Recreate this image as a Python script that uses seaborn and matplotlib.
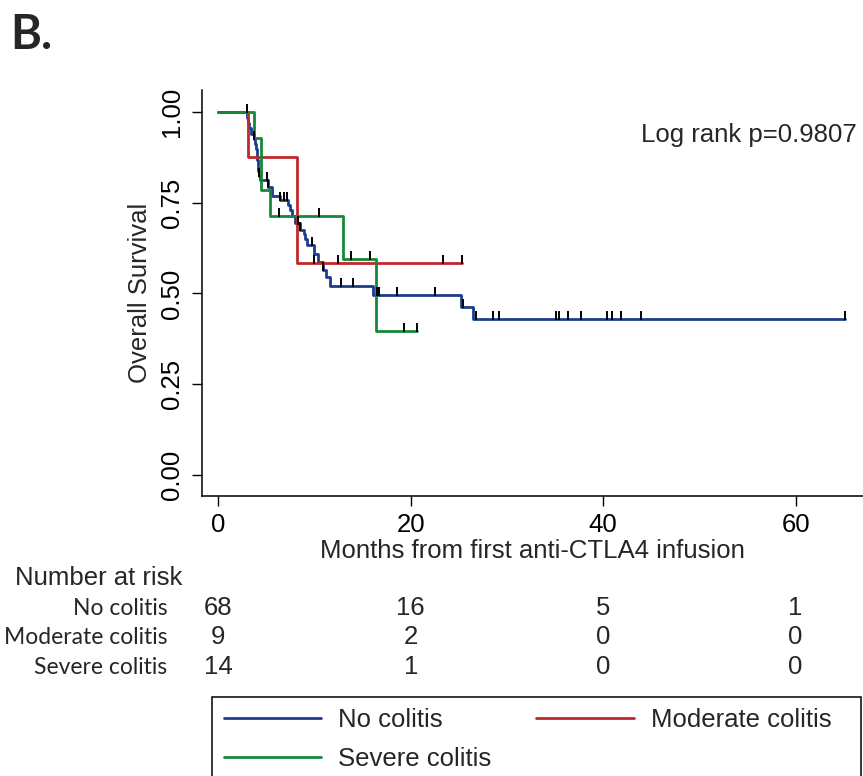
import numpy as np
import pandas as pd
import seaborn as sns
import matplotlib.pyplot as plt
from matplotlib.lines import Line2D
from matplotlib.patches import Rectangle
from matplotlib.transforms import blended_transform_factory

sns.set_style("ticks")
plt.rcParams['font.family'] = ['Liberation Sans', 'DejaVu Sans']

# Kaplan-Meier steps (months, survival)
blue_time = [0, 3.0, 3.1, 3.2, 3.4, 3.7, 3.8, 3.9, 4.0, 4.05, 4.1, 4.15, 4.2, 4.35, 5.2, 5.6,
             6.4, 7.2, 7.4, 7.65, 8.0, 8.45, 8.9, 9.0, 9.2, 9.9, 10.4, 10.9, 11.2, 11.6,
             16.1, 25.2, 26.5, 65.1]
blue_surv = [1.0, 0.985, 0.971, 0.956, 0.941, 0.926, 0.912, 0.897, 0.882, 0.868, 0.853, 0.838,
             0.824, 0.812, 0.794, 0.768, 0.757, 0.745, 0.731, 0.713, 0.693, 0.674, 0.665, 0.651,
             0.633, 0.610, 0.586, 0.564, 0.545, 0.522, 0.496, 0.464, 0.430, 0.430]
blue_cens = [3.7, 4.2, 5.05, 5.2, 6.4, 6.8, 7.1, 8.3, 8.5, 9.7, 10.9, 12.8, 14.0, 16.5, 16.7,
             18.6, 22.5, 25.4, 26.8, 28.5, 29.2, 35.1, 35.4, 36.3, 37.7, 40.4, 40.9, 41.9,
             43.9, 65.1]

red_time = [0, 3.1, 8.2, 25.3]
red_surv = [1.0, 0.875, 0.583, 0.583]
red_cens = [3.0, 9.9, 12.4, 23.3, 25.3]

green_time = [0, 3.7, 4.4, 5.4, 13.0, 16.4, 20.6]
green_surv = [1.0, 0.929, 0.786, 0.714, 0.595, 0.397, 0.397]
green_cens = [6.3, 10.5, 13.8, 15.8, 19.3, 20.6]

groups = ["No colitis", "Moderate colitis", "Severe colitis"]
colors = ["#1c3d8f", "#c1272d", "#17873a"]

risk_times = [0, 20, 40, 60]
risk_no = [68, 16, 5, 1]
risk_mod = [9, 2, 0, 0]
risk_sev = [14, 1, 0, 0]

curves = [(blue_time, blue_surv, blue_cens),
          (red_time, red_surv, red_cens),
          (green_time, green_surv, green_cens)]

df = pd.concat([pd.DataFrame({"time": t, "surv": s, "group": g})
                for (t, s, _), g in zip(curves, groups)], ignore_index=True)

fig = plt.figure(figsize=(8.63, 7.76), dpi=100)
ax = fig.add_axes([0.234, 0.361, 0.766, 0.523])

sns.lineplot(data=df, x="time", y="surv", hue="group", hue_order=groups,
             palette=colors, estimator=None, sort=False, drawstyle="steps-post",
             linewidth=2.0, legend=False, ax=ax)

# censoring ticks
for (t, s, cens) in curves:
    t = np.array(t)
    s = np.array(s)
    idx = np.searchsorted(t, cens, side="right") - 1
    lvl = s[idx]
    ax.vlines(cens, lvl - 0.003, lvl + 0.022, color="black", linewidth=1.4, zorder=5)

ax.set_xlim(-1.7, 67.0)
ax.set_ylim(-0.058, 1.061)
ax.set_xticks([0, 20, 40, 60])
ax.set_yticks([0, 0.25, 0.5, 0.75, 1.0])
ax.set_yticklabels(["0.00", "0.25", "0.50", "0.75", "1.00"], rotation=90, va="center")
ax.tick_params(axis="both", labelsize=18.5, length=7, width=1, colors="black", pad=6)
ax.tick_params(axis="x", pad=5)
ax.set_xlabel("Months from first anti-CTLA4 infusion", fontsize=18.5, labelpad=2)
ax.set_ylabel("Overall Survival", fontsize=18.5, labelpad=6)
sns.despine(ax=ax)
for sp in ["left", "bottom"]:
    ax.spines[sp].set_linewidth(1.1)
    ax.spines[sp].set_color("black")

ax.text(0.99, 0.888, "Log rank p=0.9807", transform=ax.transAxes, ha="right",
        va="center", fontsize=18.5)

fig.text(0.012, 0.955, "B.", fontsize=34, fontweight="bold", family=["Lato", "DejaVu Sans"],
         ha="left", va="center")

# number at risk table
fig.text(0.017, 0.255, "Number at risk", fontsize=18.5, ha="left", va="center")
tr = blended_transform_factory(ax.transData, fig.transFigure)
row_y = [0.216, 0.179, 0.140]
for lab, vals, y in zip(groups, [risk_no, risk_mod, risk_sev], row_y):
    fig.text(0.194, y, lab, fontsize=16.5, ha="right", va="center",
             family=["Lato", "DejaVu Sans"])
    for xt, v in zip(risk_times, vals):
        ax.text(xt, y, str(v), transform=tr, ha="center", va="center", fontsize=18.5)

# legend (row-wise order like the original)
handles = [Line2D([], [], color=c, linewidth=2.0) for c in colors]
order = [0, 2, 1]
leg = fig.legend([handles[i] for i in order], [groups[i] for i in order],
                 loc="upper left", ncol=2, bbox_to_anchor=(0.246, 0.102),
                 fontsize=18.5, frameon=False, borderaxespad=0,
                 handlelength=3.8, handletextpad=0.65, labelspacing=0.55,
                 borderpad=0.45, columnspacing=1.75)
fig.patches.append(Rectangle((0.2457, -0.05), 0.752, 0.152, transform=fig.transFigure,
                             fill=False, edgecolor="black", linewidth=1.1))

fig.savefig("out.png", dpi=100)
